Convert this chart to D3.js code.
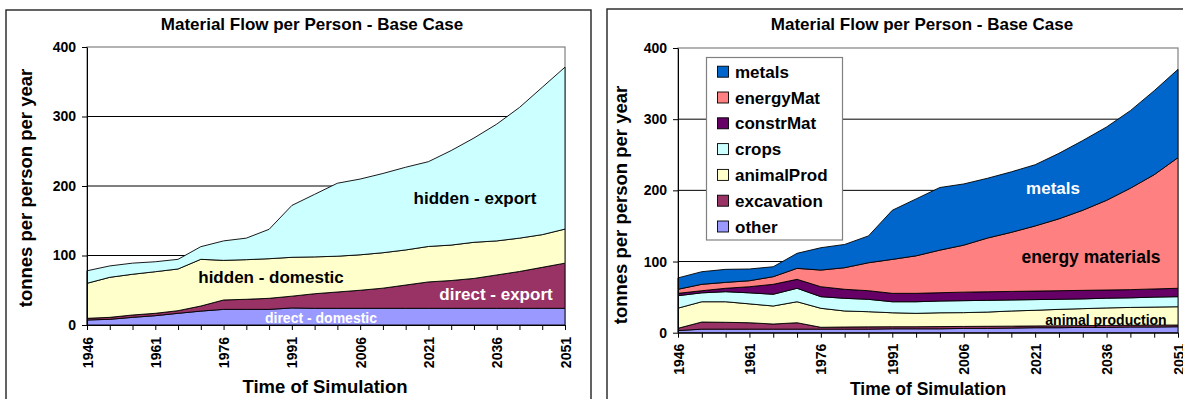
<!DOCTYPE html>
<html>
<head>
<meta charset="utf-8">
<script src="https://cdn.jsdelivr.net/npm/d3@7/dist/d3.min.js"></script>
<style>
  html, body { margin: 0; padding: 0; background: #fff; }
  svg { display: block; font-family: "Liberation Sans", Arial, sans-serif; font-weight: bold; }
</style>
</head>
<body>
<svg id="chart" width="1183" height="399"></svg>
<script>
// Simulation years (one value every 5 years)
const years = [1946, 1951, 1956, 1961, 1966, 1971, 1976, 1981, 1986, 1991, 1996,
               2001, 2006, 2011, 2016, 2021, 2026, 2031, 2036, 2041, 2046, 2051];
const yearLabels = [1946, 1961, 1976, 1991, 2006, 2021, 2036, 2051];
const valueTicks = [0, 100, 200, 300, 400];

// Flow by destination (tonnes per person per year)
const directDomestic = [7.2, 8.2, 11, 13.4, 16.8, 20, 22.5, 22.5, 22.5, 24.5, 24, 24, 24, 24, 24, 24, 24, 24, 24, 24, 24, 24];
const directExport   = [2.4, 2.8, 3.4, 3.4, 3.8, 7.3, 13.5, 14.5, 15.9, 17, 21, 23.5, 26, 29, 33.5, 38, 40, 43, 48, 53, 59, 65];
const hiddenDomestic = [50.4, 57.6, 58.6, 59.9, 60, 67.2, 57, 57, 57, 55.9, 53, 51.5, 51, 51, 50.5, 51, 51, 52, 49, 48, 47, 49];
const hiddenExport   = [18, 16.4, 16, 14.3, 13.9, 18.2, 28, 31, 42.3, 74.6, 90, 105, 109, 114, 119, 122, 136, 150, 168, 188, 212, 233];

// Flow by material (tonnes per person per year)
const other      = [3, 5, 5, 5, 5, 5, 5, 5, 5, 5.5, 5.5, 5.5, 6, 6, 6.5, 7, 7, 7.5, 7.5, 8, 8, 8.4];
const excavation = [3.2, 10, 9.6, 9, 7.2, 9, 2.6, 3, 3.2, 2.9, 2.9, 3.1, 2.8, 3, 2.7, 2.5, 2.7, 2.5, 2.7, 2.4, 2.6, 2.4];
const animalProd = [28.3, 28.5, 28.9, 26.5, 25.3, 29.5, 26.7, 22.5, 21.3, 19.6, 18.8, 19.4, 19.4, 20, 21.3, 22, 23.1, 23.8, 24.6, 25.1, 25.4, 25.7];
const crops      = [17.5, 12.5, 14.1, 15.5, 16.5, 18.9, 16.3, 17.8, 17.4, 15.5, 16.3, 16.5, 16.8, 16.5, 15.5, 15, 14.2, 13.7, 13.7, 13.5, 14, 14.1];
const constrMat  = [3.3, 3, 4.8, 8.6, 14, 12.6, 14, 12.7, 12.1, 11.8, 11.8, 11.7, 12, 12, 12, 12, 12, 12, 11.5, 11.5, 11.5, 11.8];
const energyMat  = [5.7, 9, 8.3, 8.4, 10.7, 15.4, 23.4, 30.3, 39.3, 47.7, 52.7, 59.8, 66, 75.5, 83, 91.5, 101, 112.5, 126, 142.5, 160.5, 183.6];
const metals     = [16, 17.7, 18.3, 16.5, 14, 21.1, 31.4, 32.7, 37.7, 69, 80, 88, 86, 84, 85, 86, 92, 98, 103, 109, 118, 124];

const titleText = "Material Flow per Person - Base Case";
const yTitle = "tonnes per person per year";
const xTitle = "Time of Simulation";

const svg = d3.select("#chart");
const FONT = '"Liberation Sans", Arial, sans-serif';

function buildRows(series) {
  return years.map((yr, i) => {
    const row = { year: yr };
    series.forEach(s => { row[s.key] = s.values[i]; });
    return row;
  });
}

function drawPanel(opt) {
  const g = svg.append("g");

  // outer chart frame
  g.append("rect")
    .attr("x", opt.frame.x).attr("y", opt.frame.y)
    .attr("width", opt.frame.w).attr("height", opt.frame.h)
    .attr("fill", "#fff").attr("stroke", "#222").attr("stroke-width", 1.4);

  const x = d3.scaleLinear().domain([years[0], years[years.length - 1]]).range([opt.left, opt.right]);
  const y = d3.scaleLinear().domain([0, 400]).range([opt.bottom, opt.top]);

  // plot area border (grey)
  g.append("rect")
    .attr("x", opt.left).attr("y", opt.top)
    .attr("width", opt.right - opt.left).attr("height", opt.bottom - opt.top)
    .attr("fill", "#fff").attr("stroke", "#808080").attr("stroke-width", 1.2);

  // stacked areas
  const rows = buildRows(opt.series);
  const stack = d3.stack().keys(opt.series.map(s => s.key));
  const layers = stack(rows);
  const area = d3.area()
    .x(d => x(d.data.year))
    .y0(d => y(d[0]))
    .y1(d => y(d[1]));
  const colorOf = {};
  opt.series.forEach(s => { colorOf[s.key] = s.color; });

  // gridlines (behind areas)
  g.append("g").selectAll("line")
    .data(valueTicks.filter(v => v > 0 && v < 400))
    .join("line")
    .attr("x1", opt.left).attr("x2", opt.right)
    .attr("y1", d => y(d)).attr("y2", d => y(d))
    .attr("stroke", "#000").attr("stroke-width", 1);

  g.append("g").selectAll("path")
    .data(layers)
    .join("path")
    .attr("d", area)
    .attr("fill", d => colorOf[d.key])
    .attr("stroke", "#000")
    .attr("stroke-width", 0.9)
    .attr("stroke-linejoin", "round");

  // y axis
  const yAxis = g.append("g")
    .attr("transform", `translate(${opt.left},0)`)
    .call(d3.axisLeft(y).tickValues(valueTicks).tickSize(5).tickPadding(6).tickSizeOuter(0));
  yAxis.select(".domain").attr("stroke", "#000");
  yAxis.selectAll("text")
    .attr("font-family", FONT).attr("font-weight", "bold")
    .attr("font-size", 14).attr("fill", "#000");

  // x axis: a tick every 5 years, labels every 15 years
  const xAxis = g.append("g")
    .attr("transform", `translate(0,${opt.bottom})`)
    .call(d3.axisBottom(x).tickValues(years).tickSize(5).tickSizeOuter(0)
      .tickFormat(d => yearLabels.includes(d) ? String(d) : ""));
  xAxis.select(".domain").attr("stroke", "#000");
  xAxis.selectAll("text")
    .attr("font-family", FONT).attr("font-weight", "bold")
    .attr("font-size", 14).attr("fill", "#000")
    .attr("text-anchor", "end")
    .attr("x", 0).attr("y", 0)
    .attr("dy", "0.36em")
    .attr("transform", `translate(0,${opt.xLabelGap}) rotate(-90)`);

  // titles
  g.append("text")
    .attr("x", opt.titleX).attr("y", opt.titleY)
    .attr("text-anchor", "middle")
    .attr("font-size", 17).attr("fill", "#000")
    .text(titleText);

  g.append("text")
    .attr("transform", `translate(${opt.yTitleX},${opt.yTitleY}) rotate(-90)`)
    .attr("text-anchor", "middle")
    .attr("font-size", opt.yTitleSize).attr("fill", "#000")
    .text(yTitle);

  g.append("text")
    .attr("x", opt.xTitleX).attr("y", opt.xTitleY)
    .attr("text-anchor", "middle")
    .attr("font-size", opt.xTitleSize).attr("fill", "#000")
    .text(xTitle);

  // in-chart labels
  opt.labels.forEach(l => {
    g.append("text")
      .attr("x", l.x).attr("y", l.y)
      .attr("text-anchor", "middle")
      .attr("font-size", l.size)
      .attr("fill", l.color)
      .text(l.text);
  });

  return { g, x, y };
}

// Left chart: by destination
drawPanel({
  frame: { x: 6, y: 10, w: 585, h: 420 },
  left: 87, right: 565, top: 47, bottom: 325,
  xLabelGap: 12,
  titleX: 312, titleY: 30,
  yTitleX: 32, yTitleY: 188, yTitleSize: 18.5,
  xTitleX: 325, xTitleY: 393, xTitleSize: 18.5,
  series: [
    { key: "direct - domestic", values: directDomestic, color: "#9999FF" },
    { key: "direct - export",   values: directExport,   color: "#993366" },
    { key: "hidden - domestic", values: hiddenDomestic, color: "#FFFFCC" },
    { key: "hidden - export",   values: hiddenExport,   color: "#CCFFFF" }
  ],
  labels: [
    { text: "hidden - export",   x: 475, y: 204, size: 17, color: "#000" },
    { text: "hidden - domestic", x: 271, y: 283, size: 17, color: "#000" },
    { text: "direct - export",   x: 496, y: 300, size: 17, color: "#fff" },
    { text: "direct - domestic", x: 321, y: 323, size: 14, color: "#fff" }
  ]
});

// Right chart: by material
const seriesR = [
  { key: "other",      values: other,      color: "#9999FF" },
  { key: "excavation", values: excavation, color: "#993366" },
  { key: "animalProd", values: animalProd, color: "#FFFFCC" },
  { key: "crops",      values: crops,      color: "#CCFFFF" },
  { key: "constrMat",  values: constrMat,  color: "#660066" },
  { key: "energyMat",  values: energyMat,  color: "#FF8080" },
  { key: "metals",     values: metals,     color: "#0066CC" }
];
const right = drawPanel({
  frame: { x: 607, y: 9, w: 600, h: 420 },
  left: 678, right: 1178, top: 48, bottom: 332.7,
  xLabelGap: 11,
  titleX: 922, titleY: 30,
  yTitleX: 627, yTitleY: 205, yTitleSize: 18.5,
  xTitleX: 928, xTitleY: 395, xTitleSize: 17.5,
  series: seriesR,
  labels: [
    { text: "metals",            x: 1053, y: 194, size: 17, color: "#fff" },
    { text: "energy materials",  x: 1091, y: 263, size: 17.5, color: "#000" },
    { text: "animal production", x: 1106, y: 325, size: 14, color: "#000" }
  ]
});

// Legend (top series first)
const legend = right.g.append("g");
legend.append("rect")
  .attr("x", 706.5).attr("y", 57.5).attr("width", 136).attr("height", 182.5)
  .attr("fill", "#fff").attr("stroke", "#808080").attr("stroke-width", 1.2);
const legendItems = seriesR.slice().reverse();
const li = legend.selectAll("g.item")
  .data(legendItems)
  .join("g")
  .attr("class", "item")
  .attr("transform", (d, i) => `translate(717,${71.7 + i * 25.8})`);
li.append("rect")
  .attr("x", 0.5).attr("y", -5.5).attr("width", 11).attr("height", 11)
  .attr("fill", d => d.color).attr("stroke", "#000").attr("stroke-width", 0.9);
li.append("text")
  .attr("x", 18).attr("y", 0).attr("dy", "0.36em")
  .attr("font-size", 17).attr("fill", "#000")
  .text(d => d.key);
</script>
</body>
</html>
